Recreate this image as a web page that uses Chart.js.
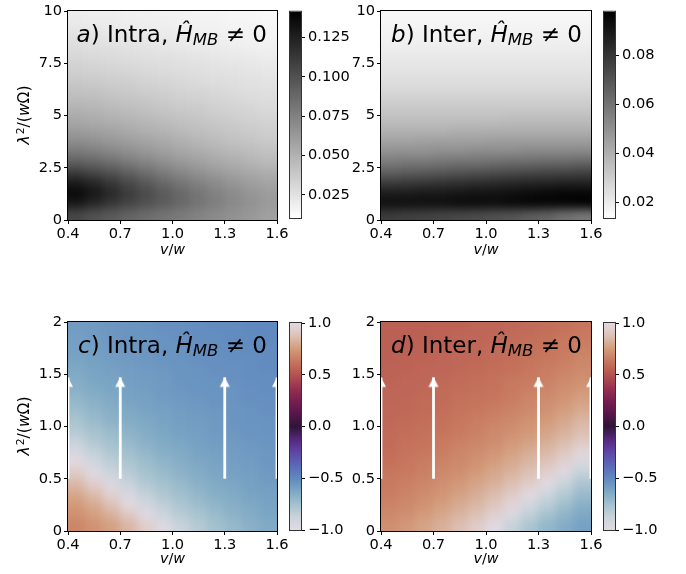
<!DOCTYPE html>
<html><head><meta charset="utf-8">
<script src="https://cdn.jsdelivr.net/npm/chart.js@4/dist/chart.umd.min.js"></script>
<style>
html,body{margin:0;padding:0;background:#fff;}
#wrap{position:relative;width:686px;height:574px;overflow:hidden;font-family:"DejaVu Sans",sans-serif;color:#000;}
canvas{position:absolute;left:0;top:0;}
.ttl{position:absolute;white-space:nowrap;font-size:23px;line-height:23px;text-align:right;}
.ttl sub{font-size:0.72em;vertical-align:baseline;position:relative;top:0.22em;font-style:italic;}
.ax{position:absolute;white-space:nowrap;font-size:14.4px;line-height:14.4px;}
.ay{position:absolute;white-space:nowrap;font-size:15.5px;line-height:15.5px;}
.ay sup{font-size:0.7em;vertical-align:baseline;position:relative;top:-0.45em;margin-left:1px;}
</style></head><body><div id="wrap">
<canvas id="ha" width="686" height="574"></canvas>
<canvas id="hb" width="686" height="574"></canvas>
<canvas id="hc" width="686" height="574"></canvas>
<canvas id="hd" width="686" height="574"></canvas>
<canvas id="ca" width="686" height="574"></canvas>
<canvas id="cb" width="686" height="574"></canvas>
<canvas id="cc" width="686" height="574"></canvas>
<canvas id="cd" width="686" height="574"></canvas>

<div class="ttl" style="right:419px;top:22.5px;"><i>a</i>) Intra, <i>Ĥ</i><sub>MB</sub> ≠ 0</div>
<div class="ttl" style="right:104px;top:22.5px;"><i>b</i>) Inter, <i>Ĥ</i><sub>MB</sub> ≠ 0</div>
<div class="ttl" style="right:419px;top:333.5px;"><i>c</i>) Intra, <i>Ĥ</i><sub>MB</sub> ≠ 0</div>
<div class="ttl" style="right:104px;top:333.5px;"><i>d</i>) Inter, <i>Ĥ</i><sub>MB</sub> ≠ 0</div>

<div class="ax" style="left:172.5px;top:241.5px;transform:translateX(-50%);"><i>v</i>/<i>w</i></div>
<div class="ax" style="left:486px;top:241.5px;transform:translateX(-50%);"><i>v</i>/<i>w</i></div>
<div class="ax" style="left:172.5px;top:550.5px;transform:translateX(-50%);"><i>v</i>/<i>w</i></div>
<div class="ax" style="left:486px;top:550.5px;transform:translateX(-50%);"><i>v</i>/<i>w</i></div>
<div class="ay" style="left:25px;top:115px;transform:translate(-50%,-50%) rotate(-90deg);"><i>λ</i><sup>2</sup>/(<i>w</i>Ω)</div>
<div class="ay" style="left:25px;top:426px;transform:translate(-50%,-50%) rotate(-90deg);"><i>λ</i><sup>2</sup>/(<i>w</i>Ω)</div>
</div>
<script>
// ---------------- DATA ----------------
const xCenters = [0.45,0.55,0.65,0.75,0.85,0.95,1.05,1.15,1.25,1.35,1.45,1.55];
const yCentersTop = [0.25,0.75,1.25,1.75,2.25,2.75,3.25,3.75,4.25,4.75,5.25,5.75,6.25,6.75,7.25,7.75,8.25,8.75,9.25,9.75];
const yCentersBottom = [0.05,0.15,0.25,0.35,0.45,0.55,0.65,0.75,0.85,0.95,1.05,1.15,1.25,1.35,1.45,1.55,1.65,1.75,1.85,1.95];

// panel a: Intra (rows from bottom to top)
const intraTop = [
 [.105,.100,.095,.090,.086,.082,.078,.074,.070,.067,.063,.059],
 [.128,.121,.113,.106,.100,.094,.088,.082,.076,.071,.067,.062],
 [.137,.130,.121,.111,.103,.095,.088,.081,.075,.070,.065,.061],
 [.128,.122,.113,.104,.096,.088,.081,.075,.070,.065,.060,.057],
 [.110,.105,.099,.092,.085,.078,.072,.067,.062,.058,.055,.052],
 [.092,.089,.084,.078,.073,.068,.063,.059,.055,.052,.049,.046],
 [.079,.076,.072,.068,.064,.060,.056,.053,.050,.047,.044,.042],
 [.069,.067,.063,.060,.057,.054,.051,.048,.045,.042,.040,.038],
 [.061,.059,.057,.054,.051,.049,.046,.043,.041,.039,.037,.035],
 [.055,.053,.051,.049,.047,.044,.042,.040,.038,.036,.034,.033],
 [.050,.049,.047,.044,.042,.040,.038,.037,.035,.033,.032,.030],
 [.045,.044,.042,.040,.039,.037,.035,.034,.032,.031,.029,.028],
 [.041,.040,.038,.037,.035,.034,.032,.031,.030,.028,.027,.026],
 [.037,.036,.035,.034,.032,.031,.030,.028,.027,.026,.025,.024],
 [.034,.033,.032,.031,.029,.028,.027,.026,.025,.024,.023,.022],
 [.031,.030,.029,.028,.027,.026,.025,.024,.023,.022,.021,.020],
 [.028,.027,.026,.025,.024,.023,.022,.021,.020,.019,.018,.018],
 [.025,.024,.023,.023,.022,.021,.020,.019,.019,.018,.017,.016],
 [.022,.021,.021,.020,.019,.019,.018,.017,.017,.016,.016,.015],
 [.020,.019,.019,.018,.018,.017,.017,.016,.016,.015,.015,.014]
];
// panel b: Inter
const interTop = [
 [.078,.077,.076,.075,.074,.073,.071,.070,.067,.065,.061,.058],
 [.093,.093,.093,.093,.094,.094,.094,.095,.096,.096,.096,.097],
 [.089,.089,.090,.090,.091,.092,.092,.093,.094,.095,.096,.096],
 [.078,.079,.080,.081,.082,.083,.084,.085,.086,.086,.087,.087],
 [.066,.067,.068,.069,.070,.071,.072,.073,.074,.075,.075,.076],
 [.057,.058,.058,.059,.060,.060,.061,.062,.062,.063,.063,.064],
 [.050,.050,.050,.051,.051,.052,.052,.052,.053,.053,.053,.053],
 [.044,.044,.045,.045,.045,.045,.046,.046,.046,.046,.046,.046],
 [.039,.039,.039,.039,.040,.040,.040,.040,.040,.040,.040,.040],
 [.035,.035,.035,.035,.035,.035,.035,.036,.036,.036,.036,.036],
 [.032,.032,.032,.032,.032,.032,.032,.032,.032,.032,.032,.032],
 [.029,.029,.029,.029,.029,.029,.029,.029,.029,.029,.029,.029],
 [.026,.026,.026,.026,.026,.026,.026,.026,.026,.026,.026,.026],
 [.024,.024,.024,.024,.024,.024,.024,.024,.024,.024,.024,.024],
 [.022,.022,.022,.022,.022,.022,.022,.022,.022,.022,.022,.022],
 [.021,.021,.021,.021,.021,.021,.021,.021,.021,.021,.021,.021],
 [.019,.019,.019,.019,.019,.019,.019,.019,.019,.019,.019,.019],
 [.018,.018,.018,.018,.018,.018,.018,.018,.018,.018,.018,.018],
 [.017,.017,.017,.017,.017,.017,.017,.017,.017,.017,.017,.017],
 [.016,.016,.016,.016,.016,.016,.016,.016,.016,.016,.016,.016]
];
// panel c: Intra
const intraBottom = [
 [0.68,0.72,0.77,0.84,0.94,-0.97,-0.88,-0.81,-0.75,-0.71,-0.67,-0.64],
 [0.71,0.76,0.82,0.91,-0.98,-0.90,-0.82,-0.77,-0.72,-0.68,-0.65,-0.62],
 [0.75,0.80,0.88,0.99,-0.92,-0.84,-0.78,-0.73,-0.69,-0.66,-0.63,-0.61],
 [0.79,0.86,0.96,-0.94,-0.86,-0.79,-0.74,-0.70,-0.66,-0.64,-0.61,-0.60],
 [0.85,0.94,-0.96,-0.88,-0.80,-0.75,-0.71,-0.67,-0.64,-0.62,-0.60,-0.58],
 [0.92,-0.98,-0.90,-0.82,-0.76,-0.72,-0.68,-0.65,-0.62,-0.60,-0.59,-0.57],
 [0.99,-0.92,-0.84,-0.78,-0.73,-0.69,-0.66,-0.63,-0.61,-0.59,-0.58,-0.56],
 [-0.94,-0.86,-0.79,-0.74,-0.70,-0.66,-0.64,-0.61,-0.60,-0.58,-0.57,-0.56],
 [-0.87,-0.80,-0.75,-0.71,-0.67,-0.64,-0.62,-0.60,-0.58,-0.57,-0.56,-0.55],
 [-0.81,-0.76,-0.72,-0.68,-0.65,-0.62,-0.60,-0.59,-0.57,-0.56,-0.55,-0.54],
 [-0.77,-0.72,-0.68,-0.65,-0.63,-0.61,-0.59,-0.58,-0.57,-0.55,-0.54,-0.54],
 [-0.73,-0.69,-0.66,-0.63,-0.61,-0.60,-0.58,-0.57,-0.56,-0.55,-0.54,-0.53],
 [-0.70,-0.67,-0.64,-0.61,-0.60,-0.58,-0.57,-0.56,-0.55,-0.54,-0.53,-0.53],
 [-0.67,-0.64,-0.62,-0.60,-0.59,-0.57,-0.56,-0.55,-0.54,-0.54,-0.53,-0.52],
 [-0.65,-0.62,-0.61,-0.59,-0.58,-0.57,-0.55,-0.54,-0.54,-0.53,-0.52,-0.52],
 [-0.63,-0.61,-0.60,-0.58,-0.57,-0.56,-0.55,-0.54,-0.53,-0.53,-0.52,-0.51],
 [-0.61,-0.60,-0.58,-0.57,-0.56,-0.55,-0.54,-0.53,-0.53,-0.52,-0.52,-0.51],
 [-0.60,-0.59,-0.57,-0.56,-0.55,-0.54,-0.54,-0.53,-0.52,-0.52,-0.51,-0.51],
 [-0.59,-0.58,-0.56,-0.55,-0.55,-0.54,-0.53,-0.52,-0.52,-0.51,-0.51,-0.50],
 [-0.58,-0.57,-0.56,-0.55,-0.54,-0.53,-0.53,-0.52,-0.51,-0.51,-0.50,-0.50]
];
// panel d: Inter
const interBottom = [
 [0.71,0.74,0.78,0.82,0.87,0.93,-0.99,-0.87,-0.78,-0.70,-0.65,-0.60],
 [0.69,0.71,0.75,0.79,0.83,0.88,0.95,-0.96,-0.85,-0.76,-0.69,-0.63],
 [0.67,0.69,0.72,0.76,0.80,0.84,0.90,0.97,-0.93,-0.83,-0.74,-0.67],
 [0.65,0.67,0.70,0.73,0.77,0.81,0.86,0.92,0.99,-0.91,-0.81,-0.72],
 [0.64,0.66,0.68,0.71,0.74,0.78,0.82,0.87,0.93,-0.99,-0.88,-0.78],
 [0.63,0.64,0.66,0.69,0.71,0.75,0.79,0.83,0.88,0.95,-0.97,-0.86],
 [0.61,0.63,0.65,0.67,0.69,0.72,0.76,0.80,0.84,0.89,0.96,-0.95],
 [0.60,0.62,0.63,0.65,0.68,0.70,0.73,0.77,0.81,0.85,0.91,0.98],
 [0.59,0.61,0.62,0.64,0.66,0.68,0.70,0.74,0.77,0.81,0.86,0.92],
 [0.59,0.60,0.61,0.62,0.64,0.66,0.69,0.71,0.74,0.78,0.82,0.87],
 [0.58,0.59,0.60,0.61,0.63,0.65,0.67,0.69,0.72,0.75,0.79,0.84],
 [0.58,0.58,0.59,0.60,0.62,0.63,0.65,0.67,0.69,0.72,0.76,0.80],
 [0.57,0.58,0.59,0.59,0.61,0.62,0.63,0.65,0.68,0.70,0.73,0.77],
 [0.57,0.57,0.58,0.59,0.60,0.61,0.62,0.64,0.66,0.68,0.71,0.74],
 [0.56,0.57,0.57,0.58,0.59,0.60,0.61,0.63,0.64,0.66,0.69,0.71],
 [0.56,0.56,0.57,0.57,0.58,0.59,0.60,0.61,0.63,0.65,0.67,0.69],
 [0.55,0.56,0.56,0.57,0.58,0.58,0.59,0.60,0.62,0.63,0.65,0.68],
 [0.55,0.55,0.56,0.56,0.57,0.58,0.59,0.60,0.61,0.62,0.64,0.66],
 [0.55,0.55,0.55,0.56,0.57,0.57,0.58,0.59,0.60,0.61,0.63,0.64],
 [0.55,0.55,0.55,0.56,0.56,0.57,0.57,0.58,0.59,0.60,0.61,0.63]
];

const xRange = [0.4, 1.6];
const xTicks = [0.4, 0.7, 1.0, 1.3, 1.6];
const xTickLabels = ['0.4','0.7','1.0','1.3','1.6'];
const yRangeTop = [0, 10];
const yTicksTop = [0, 2.5, 5, 7.5, 10];
const yTickLabelsTop = ['0','2.5','5','7.5','10'];
const yRangeBottom = [0, 2];
const yTicksBottom = [0, 0.5, 1.0, 1.5, 2];
const yTickLabelsBottom = ['0','0.5','1.0','1.5','2'];

const cbarRangeA = [0.0103, 0.1414];
const cbarTicksA = [0.025, 0.05, 0.075, 0.1, 0.125];
const cbarLabelsA = ['0.025','0.050','0.075','0.100','0.125'];
const cbarRangeB = [0.0135, 0.0978];
const cbarTicksB = [0.02, 0.04, 0.06, 0.08];
const cbarLabelsB = ['0.02','0.04','0.06','0.08'];
const cbarRangeCD = [-1, 1];
const cbarTicksCD = [-1, -0.5, 0, 0.5, 1];
const cbarLabelsCD = ['\u22121.0','\u22120.5','0.0','0.5','1.0'];

const arrowX = [0.4, 0.7, 1.3, 1.6];
const arrowStart = 0.5;
const arrowTip = 1.47;

// ---------------- STYLE / HELPERS ----------------
const W = 686, H = 574;
const TICK_FONT = 14.6;
Chart.defaults.font.family = "'DejaVu Sans', sans-serif";
Chart.defaults.color = '#000';

const twilightStops = [
 [0.0,226,217,226],[0.0625,200,211,219],[0.125,163,193,206],[0.1875,124,167,196],
 [0.25,96,137,191],[0.3125,90,104,184],[0.375,94,70,168],[0.4375,85,40,126],
 [0.5,48,20,55],[0.5625,88,22,75],[0.625,120,30,80],[0.6875,153,50,80],
 [0.75,180,82,80],[0.8125,198,117,92],[0.875,211,155,122],[0.9375,220,193,180],[1.0,226,217,226]
];
function twilight(v){
  let t = (v + 1) / 2; t = Math.min(1, Math.max(0, t));
  for (let i = 1; i < twilightStops.length; i++) {
    const a = twilightStops[i-1], b = twilightStops[i];
    if (t <= b[0]) {
      const f = (t - a[0]) / (b[0] - a[0]);
      const c = [1,2,3].map(k => Math.round(a[k] + f * (b[k] - a[k])));
      return 'rgb(' + c.join(',') + ')';
    }
  }
  return 'rgb(226,217,226)';
}
function grayR(range){
  return v => {
    let t = (v - range[0]) / (range[1] - range[0]); t = Math.min(1, Math.max(0, t));
    const g = Math.round(255 * (1 - t));
    return 'rgb(' + g + ',' + g + ',' + g + ')';
  };
}

const framePlugin = {
  id: 'frame',
  afterDraw(chart, args, opts) {
    const a = chart.chartArea, c = chart.ctx;
    c.save();
    c.strokeStyle = opts.color || '#000';
    c.lineWidth = 1;
    c.strokeRect(a.left - 0.5, a.top - 0.5, a.right - a.left + 1, a.bottom - a.top + 1);
    c.restore();
  }
};

// smooth shading of the cell image (like image interpolation), edges replicated
const smoothPlugin = {
  id: 'smooth',
  afterDatasetDraw(chart, args, opts) {
    if (!opts || !opts.radius || args.index !== 0) return;
    const a = chart.chartArea, ctx = chart.ctx, src = chart.canvas;
    const L = Math.round(a.left), T = Math.round(a.top);
    const w = Math.round(a.right - a.left), h = Math.round(a.bottom - a.top);
    const m = Math.ceil(opts.radius * 3);
    const off = document.createElement('canvas');
    off.width = w + 2 * m; off.height = h + 2 * m;
    const o = off.getContext('2d');
    o.imageSmoothingEnabled = false;
    o.drawImage(src, L, T, w, h, m, m, w, h);
    o.drawImage(src, L, T, w, 1, m, 0, w, m);
    o.drawImage(src, L, T + h - 1, w, 1, m, m + h, w, m);
    o.drawImage(src, L, T, 1, h, 0, m, m, h);
    o.drawImage(src, L + w - 1, T, 1, h, m + w, m, m, h);
    o.drawImage(src, L, T, 1, 1, 0, 0, m, m);
    o.drawImage(src, L + w - 1, T, 1, 1, m + w, 0, m, m);
    o.drawImage(src, L, T + h - 1, 1, 1, 0, m + h, m, m);
    o.drawImage(src, L + w - 1, T + h - 1, 1, 1, m + w, m + h, m, m);
    ctx.save();
    ctx.beginPath(); ctx.rect(L, T, w, h); ctx.clip();
    ctx.filter = 'blur(' + opts.radius + 'px)';
    ctx.drawImage(off, L - m, T - m);
    ctx.restore();
  }
};

const headImg = document.createElement('canvas');
headImg.width = 12; headImg.height = 22;
(function(){
  const hc = headImg.getContext('2d');
  hc.fillStyle = '#fff';
  hc.beginPath(); hc.moveTo(6, 11); hc.lineTo(11, 20.5); hc.lineTo(1, 20.5); hc.closePath(); hc.fill();
})();

function fixedTicks(vals){ return s => { s.ticks = vals.map(v => ({value: v})); }; }

function heatChart(id, area, grid, yCenters, yRange, yTicks, yLabels, colorFn, withArrows, blur){
  const yStep = yCenters[1] - yCenters[0];
  const datasets = yCenters.map((yc, r) => ({
    type: 'bar', order: 2,
    data: xCenters.map(x => ({x: x, y: [yc - yStep / 2, yc + yStep / 2]})),
    backgroundColor: grid[r].map(colorFn),
    borderWidth: 0, barPercentage: 1, categoryPercentage: 1, grouped: false,
    inflateAmount: 0.5, clip: 0
  }));
  if (withArrows) {
    arrowX.forEach(x => datasets.push({
      type: 'line', order: 0, data: [{x: x, y: arrowStart}, {x: x, y: arrowTip}],
      borderColor: '#fff', borderWidth: 2.8, pointRadius: 0, fill: false, clip: 0
    }));
    datasets.push({
      type: 'line', order: 0, showLine: false,
      data: arrowX.map(x => ({x: x, y: arrowTip})),
      pointStyle: headImg, pointRadius: 6, clip: 0
    });
  }
  const yAxisW = 50, xAxisH = 40;
  return new Chart(document.getElementById(id), {
    type: 'bar',
    data: {datasets: datasets},
    options: {
      responsive: false, animation: false, events: [],
      layout: {padding: {left: area.left - yAxisW, top: area.top, right: W - area.right, bottom: H - area.bottom - xAxisH}},
      plugins: {legend: {display: false}, tooltip: {enabled: false}, frame: {color: '#000'}, smooth: {radius: blur}},
      scales: {
        x: {
          type: 'linear', min: xRange[0], max: xRange[1], offset: false,
          afterBuildTicks: fixedTicks(xTicks),
          afterFit: s => { s.height = xAxisH; },
          ticks: {autoSkip: false, maxRotation: 0, padding: 1, font: {size: TICK_FONT}, color: '#000',
                  callback: (v, i) => xTickLabels[i]},
          grid: {offset: false, drawOnChartArea: false, drawTicks: true, tickLength: 4, color: '#000', lineWidth: 1},
          border: {display: false}
        },
        y: {
          type: 'linear', position: 'left', min: yRange[0], max: yRange[1],
          afterBuildTicks: fixedTicks(yTicks),
          afterFit: s => { s.width = yAxisW; },
          ticks: {autoSkip: false, padding: 2, font: {size: TICK_FONT}, color: '#000',
                  callback: (v, i) => yLabels[i]},
          grid: {drawOnChartArea: false, drawTicks: true, tickLength: 4, color: '#000', lineWidth: 1},
          border: {display: false}
        }
      }
    },
    plugins: [smoothPlugin, framePlugin]
  });
}

function cbarChart(id, area, range, ticks, labels, cmap){
  const yAxisW = 70;
  return new Chart(document.getElementById(id), {
    type: 'bar',
    data: {labels: ['cbar'], datasets: [{
      data: [[range[0], range[1]]],
      backgroundColor: ctx => {
        const ch = ctx.chart, ca = ch.chartArea;
        if (!ca || !isFinite(ca.top) || !isFinite(ca.bottom)) return null;
        const g = ch.ctx.createLinearGradient(0, ca.top, 0, ca.bottom);
        const n = 48;
        for (let i = 0; i <= n; i++) {
          const f = i / n;
          g.addColorStop(f, cmap(range[1] - f * (range[1] - range[0])));
        }
        return g;
      },
      borderWidth: 0, barPercentage: 1, categoryPercentage: 1, inflateAmount: 0
    }]},
    options: {
      responsive: false, animation: false, events: [],
      layout: {padding: {left: area.left, top: area.top, right: W - area.right - yAxisW, bottom: H - area.bottom}},
      plugins: {legend: {display: false}, tooltip: {enabled: false}, frame: {color: '#333'}},
      scales: {
        x: {display: false},
        y: {
          type: 'linear', position: 'right', min: range[0], max: range[1],
          afterBuildTicks: fixedTicks(ticks),
          afterFit: s => { s.width = yAxisW; },
          ticks: {autoSkip: false, padding: 3, font: {size: TICK_FONT}, color: '#000',
                  callback: (v, i) => labels[i]},
          grid: {drawOnChartArea: false, drawTicks: true, tickLength: 4, color: '#000', lineWidth: 1},
          border: {display: false}
        }
      }
    },
    plugins: [framePlugin]
  });
}

const areaA = {left: 68, top: 11, right: 277, bottom: 220};
const areaB = {left: 381, top: 11, right: 591, bottom: 220};
const areaC = {left: 68, top: 322, right: 277, bottom: 531};
const areaD = {left: 381, top: 322, right: 591, bottom: 531};

heatChart('ha', areaA, intraTop, yCentersTop, yRangeTop, yTicksTop, yTickLabelsTop, grayR(cbarRangeA), false, 5);
heatChart('hb', areaB, interTop, yCentersTop, yRangeTop, yTicksTop, yTickLabelsTop, grayR(cbarRangeB), false, 5);
heatChart('hc', areaC, intraBottom, yCentersBottom, yRangeBottom, yTicksBottom, yTickLabelsBottom, twilight, true, 4.5);
heatChart('hd', areaD, interBottom, yCentersBottom, yRangeBottom, yTicksBottom, yTickLabelsBottom, twilight, true, 4.5);

cbarChart('ca', {left: 290, top: 11, right: 301, bottom: 218}, cbarRangeA, cbarTicksA, cbarLabelsA, grayR(cbarRangeA));
cbarChart('cb', {left: 604, top: 11, right: 615, bottom: 218}, cbarRangeB, cbarTicksB, cbarLabelsB, grayR(cbarRangeB));
cbarChart('cc', {left: 290, top: 323, right: 301, bottom: 530}, cbarRangeCD, cbarTicksCD, cbarLabelsCD, twilight);
cbarChart('cd', {left: 604, top: 323, right: 615, bottom: 530}, cbarRangeCD, cbarTicksCD, cbarLabelsCD, twilight);
</script>
</body></html>
